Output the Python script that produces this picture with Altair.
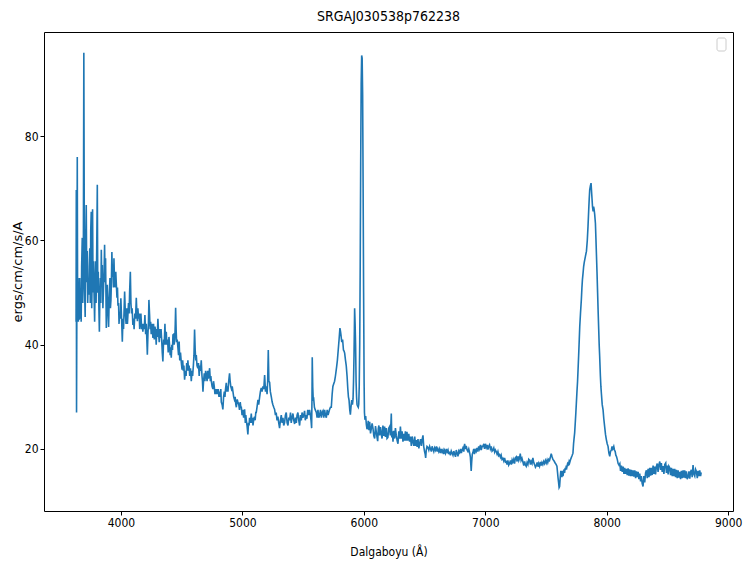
import altair as alt
import pandas as pd

# Spectrum of SRGAJ030538p762238, (wavelength [Å], flux) pairs by region
blue_end = [
    (3630, 44.4), (3632, 69.7), (3634, 27), (3637, 50), (3640, 76), (3643, 45), (3646, 52.8),
    (3649, 44.4), (3652, 51), (3656, 44.8), (3660, 52.8), (3664, 45), (3668, 50.5), (3672, 44.4),
    (3676, 55), (3681, 60.5), (3685, 48), (3690, 55), (3694, 96), (3699, 52), (3705, 45.3),
    (3710, 60), (3714, 66.8), (3718, 52), (3722, 58), (3726, 48), (3730, 52.8), (3735, 49.6),
    (3739, 55), (3743, 58.5), (3747, 48), (3751, 62), (3755, 65.5), (3759, 47), (3762, 52),
    (3766, 66), (3770, 50), (3774, 56), (3778, 50), (3783, 44.4), (3787, 52), (3791, 56),
    (3795, 48), (3800, 58), (3805, 70.7), (3809, 50), (3813, 54), (3818, 47), (3822, 42.5),
    (3826, 49), (3830, 52.8), (3834, 48), (3838, 58.2), (3842, 52), (3846, 55.3), (3851, 47),
    (3857, 51.5), (3861, 54), (3865, 59.2), (3869, 52), (3873, 56.6), (3876, 50), (3879, 43.2),
    (3883, 48), (3887, 51.5), (3892, 47), (3898, 43.4), (3903, 49), (3909, 52.8), (3913, 47),
    (3917, 48.5), (3921, 52), (3925, 57.8), (3930, 53), (3934, 55.3), (3938, 51), (3942, 56.6),
    (3947, 52), (3953, 51), (3957, 54), (3961, 52), (3967, 49), (3971, 51), (3975, 47.5),
    (3980, 48), (3984, 44), (3988, 46.3), (3994, 45), (3999, 48.9), (4005, 45), (4011, 40.6),
    (4016, 45), (4021, 43), (4026, 47), (4030, 50.2), (4036, 46), (4042, 44), (4048, 47),
    (4053, 44), (4057, 45.7), (4062, 48), (4067, 46), (4071, 50), (4077, 54), (4082, 48),
    (4087, 46), (4092, 47), (4098, 43.8), (4103, 45), (4108, 43), (4114, 46), (4120, 45),
    (4126, 49), (4131, 46), (4135, 44.5), (4139, 47), (4145, 45), (4150, 46), (4154, 43),
    (4159, 44.4), (4164, 46), (4170, 43), (4175, 44), (4180, 42.5), (4186, 44), (4192, 43),
    (4197, 45.7), (4203, 42), (4208, 44), (4213, 41), (4217, 38.1), (4222, 42), (4226, 44),
    (4230, 48.6), (4235, 46), (4240, 43), (4244, 44.4), (4249, 42), (4254, 44), (4258, 43),
    (4263, 41.3), (4268, 44), (4274, 41), (4280, 43.5), (4285, 42.5), (4290, 40), (4295, 43),
    (4299, 41.5), (4304, 45), (4310, 42), (4315, 40.5), (4320, 43), (4324, 41.3), (4330, 43),
    (4336, 40.5), (4340, 38.5), (4345, 36.8), (4351, 41), (4356, 40), (4362, 44), (4367, 40),
    (4373, 42.5), (4378, 40), (4384, 41), (4389, 38.5), (4395, 41.5), (4400, 40), (4405, 38),
    (4409, 39.5), (4414, 37.5), (4419, 40), (4424, 39), (4428, 41.9), (4433, 42), (4438, 40),
    (4443, 41), (4447, 44), (4450, 47.1), (4454, 43), (4458, 40.5), (4463, 41), (4469, 39.4),
    (4474, 38), (4479, 40.6), (4484, 37), (4490, 38.5), (4497, 36.5),
]

hbeta_region = [
    (4503, 35.2), (4508, 37), (4513, 35), (4518, 36), (4524, 33.3), (4530, 35), (4536, 34),
    (4541, 36.5), (4546, 35), (4551, 37), (4556, 35), (4561, 36), (4566, 34), (4572, 35.5),
    (4579, 33), (4585, 35), (4590, 34), (4596, 36), (4601, 38), (4606, 42.9), (4611, 39),
    (4616, 37), (4620, 38), (4626, 36), (4633, 35.5), (4638, 36.5), (4644, 34), (4650, 36),
    (4655, 35), (4661, 37), (4667, 34), (4671, 33), (4675, 31), (4680, 33), (4686, 34.5),
    (4691, 33), (4697, 35), (4703, 34), (4709, 33), (4714, 35), (4720, 33.5), (4725, 34.5),
    (4730, 35.5), (4736, 33), (4740, 34), (4744, 33), (4750, 32), (4757, 31.5), (4762, 33),
    (4768, 32), (4774, 30.5), (4779, 31.5), (4785, 30.5), (4790, 31.5), (4796, 30.5),
    (4801, 31.5), (4807, 30), (4812, 31), (4818, 30), (4822, 31.5), (4826, 29), (4833, 28.5),
    (4839, 27.6), (4845, 30), (4851, 31), (4856, 30), (4861, 31.5), (4867, 32.7), (4872, 31),
    (4876, 32), (4881, 31), (4887, 33), (4894, 34.5), (4899, 33), (4904, 32), (4910, 31.5),
    (4916, 32), (4922, 31), (4928, 30), (4934, 29.5), (4940, 30), (4946, 28.5), (4950, 28),
    (4957, 29.5), (4963, 29), (4970, 28.5), (4976, 27.5), (4982, 29), (4987, 28), (4991, 28),
    (4997, 26.5), (5003, 27.5), (5010, 26), (5018, 27.6), (5024, 25), (5028, 26.5),
    (5032, 25.5), (5038, 24.5), (5045, 22.8), (5050, 25), (5055, 24.5), (5059, 26),
    (5066, 25), (5073, 26.8), (5078, 25), (5083, 26), (5087, 24.5), (5092, 25.5), (5097, 26),
    (5100, 26.2), (5105, 25.5), (5110, 27), (5114, 27), (5120, 28), (5128, 29.4), (5134, 28.5),
    (5142, 30), (5148, 31), (5155, 31.7), (5162, 31), (5169, 32), (5176, 31.5), (5183, 34.2),
    (5190, 31), (5197, 32), (5203, 30.5), (5208, 33), (5213, 39), (5218, 33), (5224, 32.8),
    (5230, 31), (5238, 30), (5245, 29), (5251, 28.5), (5258, 28), (5265, 27.6), (5272, 26.5),
    (5278, 27), (5285, 25.5), (5292, 26.2), (5299, 25), (5306, 24), (5313, 25.5), (5320, 26.5),
    (5327, 25), (5334, 26), (5340, 24.5), (5347, 25), (5354, 26.5), (5361, 27), (5368, 25),
    (5375, 24.5), (5382, 26), (5389, 25.5), (5396, 27), (5402, 25), (5409, 26), (5416, 26.8),
    (5423, 25.5), (5430, 24.8), (5437, 26), (5444, 25), (5450, 26.5), (5457, 27), (5464, 25.5),
    (5471, 24.5), (5478, 26.5), (5485, 25.5), (5491, 27), (5498, 26), (5505, 26.5),
    (5512, 27.3), (5518, 25.5), (5525, 26.5), (5531, 25.8), (5538, 27.5), (5545, 26.5),
    (5553, 27.5), (5560, 26.5), (5565, 25.5), (5570, 24), (5573, 30), (5575, 37.6), (5579, 32),
    (5583, 29.5), (5587, 29.6), (5593, 28), (5600, 27.5), (5609, 27), (5615, 26), (5622, 27.5),
    (5629, 26), (5636, 26.5), (5643, 27.5), (5650, 26), (5656, 27), (5663, 27.3), (5670, 26),
    (5677, 27.5), (5684, 26.5), (5691, 26), (5698, 27.5), (5705, 26.5), (5711, 27),
    (5718, 27.6), (5725, 28), (5732, 28),
]

halpha_region = [
    (5739, 30.5), (5745, 32), (5752, 32.5), (5759, 33), (5766, 34), (5776, 35.8), (5782, 37),
    (5789, 39), (5796, 41), (5803, 43.2), (5808, 42.5), (5811, 42), (5818, 40.5), (5825, 41),
    (5832, 39), (5837, 38.8), (5842, 38.4), (5849, 37), (5855, 36), (5862, 33.9), (5868, 31.5),
    (5873, 30), (5878, 29.4), (5884, 27.5), (5889, 26.6), (5894, 28), (5900, 29.4),
    (5906, 28.5), (5911, 29.6), (5915, 33), (5919, 38), (5922, 43), (5924, 47), (5928, 44),
    (5932, 40), (5936, 33), (5940, 30), (5944, 28.5), (5949, 28.2), (5954, 28), (5958, 28.6),
    (5962, 32), (5966, 40), (5970, 55), (5974, 75), (5978, 90), (5982, 95.5), (5986, 95),
    (5990, 88), (5994, 70), (5998, 50), (6002, 33), (6005, 27), (6009, 25.6),
]

red_continuum = [
    (6015, 26.3), (6021, 24.6), (6026, 23.8), (6031, 24.2), (6036, 25.4), (6042, 23.6),
    (6048, 25.2), (6055, 23), (6062, 24), (6068, 24.9), (6075, 24), (6082, 22.5), (6089, 22),
    (6096, 24.4), (6103, 23.2), (6108, 22.3), (6114, 21.5), (6119, 23.9), (6124, 24.5),
    (6130, 22.6), (6137, 24.2), (6144, 22.8), (6150, 22), (6157, 24.5), (6164, 22.5),
    (6171, 24.3), (6178, 22.3), (6185, 24), (6191, 22), (6198, 22.2), (6205, 24), (6212, 24.3),
    (6218, 22.6), (6222, 24.4), (6226, 26.8), (6230, 22.2), (6235, 23.4), (6240, 21.4),
    (6247, 23.5), (6254, 22), (6260, 24), (6267, 22.6), (6274, 21.6), (6281, 21), (6288, 23.4),
    (6295, 22), (6301, 24.3), (6308, 22), (6315, 23.4), (6322, 21.4), (6329, 22.9),
    (6336, 21.6), (6342, 23.4), (6349, 21.6), (6355, 23.3), (6362, 21.6), (6370, 22.9),
    (6377, 21.4), (6384, 22.4), (6391, 20.6), (6398, 22.4), (6405, 21.3), (6412, 20.6),
    (6419, 22.4), (6426, 20.6), (6432, 21.7), (6439, 20.4), (6446, 21.9), (6453, 20.1),
    (6460, 21.1), (6467, 21.9), (6474, 20.6), (6480, 21.8), (6487, 22.6), (6493, 20.5),
    (6500, 19.5), (6505, 19), (6509, 18.3), (6514, 19.8),
    (6520, 20.5), (6528, 20.3), (6535, 19.8), (6542, 20.5), (6549, 20), (6556, 19.5),
    (6562, 20.5), (6569, 20), (6576, 19.5), (6583, 20.2), (6590, 19.8), (6597, 20.5),
    (6604, 19.5), (6610, 20), (6617, 19.5), (6624, 20), (6631, 19.2), (6638, 20), (6645, 19.4),
    (6652, 19.8), (6658, 19), (6665, 19.7), (6672, 19.2), (6679, 20), (6686, 19.4),
    (6693, 19.8), (6700, 19), (6706, 19.5), (6713, 18.8), (6720, 19.6), (6727, 19.2),
    (6734, 18.8), (6741, 19.6), (6748, 19), (6755, 18.5), (6761, 19.8), (6768, 19.2),
    (6775, 18.6), (6782, 19.6), (6789, 19.3), (6796, 20), (6803, 19.2), (6809, 19.8),
    (6816, 20.2), (6823, 19.5), (6830, 21), (6836, 20), (6843, 20.6), (6850, 19.8),
    (6857, 19.5), (6864, 20), (6871, 19.3), (6877, 18.5), (6881, 17), (6884, 15.8),
    (6888, 17.5), (6893, 19), (6898, 19.3), (6905, 20), (6911, 19), (6918, 19.8), (6925, 19.5),
    (6932, 20.2), (6939, 19.5), (6946, 20.5), (6953, 20), (6960, 20.8), (6967, 19.8),
    (6974, 20.5), (6981, 20.5), (6988, 21), (6994, 20), (7001, 21), (7008, 20.3), (7015, 20.8),
    (7022, 19.9), (7028, 20.5), (7035, 20.8), (7042, 20), (7049, 20.5), (7056, 19.6),
    (7063, 19.8), (7070, 20.2), (7077, 19.4), (7083, 19.8), (7090, 19.5), (7097, 19),
    (7104, 19.5), (7111, 18.7), (7118, 18.9), (7125, 18.4), (7131, 18.8), (7138, 18),
    (7145, 18.2), (7152, 17.7), (7159, 18.3), (7166, 17.5), (7172, 17.6), (7179, 17),
    (7186, 17.8), (7193, 16.9), (7200, 17.2), (7207, 17.8), (7214, 17), (7221, 17.9),
    (7227, 17.5), (7234, 18), (7241, 17.2), (7248, 18.3), (7255, 18.5), (7262, 17.6),
    (7269, 18.6), (7276, 17.8), (7282, 18.2), (7288, 19.1), (7295, 17.8), (7302, 18.2),
    (7310, 17.5), (7317, 16.8), (7324, 17.6), (7330, 17), (7337, 16.7), (7344, 17.4),
    (7351, 17), (7358, 18), (7365, 17.8), (7372, 17), (7378, 17.6), (7385, 17.2), (7392, 18.3),
    (7399, 17.4), (7406, 17), (7413, 16.5), (7420, 16.8), (7427, 17.4), (7434, 16.6),
    (7440, 17.2), (7447, 16.7), (7454, 17.5), (7461, 16.8), (7467, 17.4), (7474, 17),
    (7481, 17.6), (7488, 17.2), (7495, 17.8), (7502, 17.3), (7509, 17.9), (7515, 17.4),
    (7522, 18), (7529, 17.8), (7536, 18.4), (7543, 19.1), (7550, 18.5), (7557, 18),
    (7564, 17.8), (7571, 17.5), (7578, 17.2), (7584, 17), (7590, 16.7), (7595, 15.5),
    (7599, 14.5), (7604, 13.5), (7608, 12.6), (7612, 12.8), (7617, 14.5), (7622, 15.8),
    (7626, 15.4), (7631, 14.6), (7636, 15.8), (7640, 14.8), (7645, 15.6), (7649, 16.1),
    (7653, 15.4), (7658, 16.4), (7663, 16), (7667, 16.8), (7672, 16.5), (7678, 17.2),
    (7684, 17), (7690, 17.6), (7694, 17.3), (7700, 17.8), (7706, 18.2), (7711, 18.5),
    (7716, 18.8),
]

nir_line = [
    (7722, 19.2), (7727, 21), (7731, 22), (7736, 23.1), (7741, 25), (7746, 27), (7750, 28.8),
    (7755, 31), (7760, 33), (7764, 35.2), (7769, 38), (7774, 41), (7778, 43.5), (7784, 46),
    (7791, 48.6), (7796, 51), (7800, 52.5), (7805, 53.7), (7810, 55), (7815, 55.8),
    (7819, 56.3), (7825, 57), (7830, 57.6), (7833, 57.9), (7840, 60), (7846, 62.7), (7852, 66),
    (7856, 68), (7860, 69.7), (7866, 70.5), (7871, 71), (7875, 69.5), (7879, 68), (7883, 66.5),
    (7888, 65.6), (7892, 66.5), (7896, 66), (7901, 65), (7907, 63.3), (7911, 60.5),
    (7915, 57.6), (7920, 54), (7925, 50), (7929, 46.7), (7934, 43), (7938, 40), (7942, 37.8),
    (7948, 34), (7952, 32), (7956, 30.7), (7963, 28.5), (7970, 27.5), (7976, 25.8),
    (7983, 24.3), (7990, 22.8), (7997, 21.8), (8004, 21), (8011, 20.5), (8018, 19.2),
    (8025, 18.6), (8031, 19.5), (8038, 19.8), (8044, 20.5), (8050, 20), (8058, 20.5),
    (8064, 19.8), (8070, 19.5), (8075, 18.8), (8080, 18.6), (8087, 18), (8094, 17.2),
    (8101, 16.9),
]

red_tail = [
    (8108, 17.2), (8114, 15.8), (8121, 16.8), (8128, 15.6), (8135, 16.6), (8142, 15.2),
    (8148, 16.4), (8155, 15.2), (8162, 16.2), (8169, 15), (8176, 16.3), (8182, 14.9),
    (8189, 16.1), (8196, 14.8), (8203, 16), (8210, 14.8), (8217, 15.9), (8224, 14.7),
    (8231, 15.9), (8238, 14.4), (8245, 15.7), (8252, 14.6), (8259, 15.6), (8265, 14.2),
    (8272, 15.3), (8279, 13.8), (8285, 14.8), (8292, 13.4), (8299, 12.8), (8306, 14.8),
    (8313, 13.6), (8320, 15.4), (8327, 15.9), (8334, 14.4), (8341, 16.2), (8348, 14.6),
    (8354, 16.4), (8361, 14.9), (8368, 16.4), (8375, 15), (8382, 16.8), (8389, 15.2),
    (8396, 16.6), (8402, 15.1), (8409, 16.6), (8416, 17.2), (8423, 15.6), (8430, 17),
    (8437, 17.6), (8444, 16), (8450, 17.3), (8457, 15.6), (8464, 16.7), (8471, 15.2),
    (8478, 17), (8486, 17.3), (8492, 15.4), (8499, 16.8), (8506, 15.1), (8512, 16.7),
    (8519, 16.4), (8526, 15), (8533, 16.4), (8540, 14.8), (8547, 16.2), (8553, 14.8),
    (8560, 16.2), (8567, 14.6), (8574, 16), (8581, 14.4), (8588, 15.9), (8594, 14.5),
    (8601, 15.6), (8608, 14.2), (8615, 15.8), (8622, 14.4), (8629, 15.9), (8636, 14.5),
    (8642, 15.9), (8649, 14.4), (8656, 15.7), (8663, 14.2), (8670, 14.6), (8677, 15.7),
    (8684, 14.3), (8690, 15.6), (8697, 16), (8704, 14.6), (8711, 16.9), (8718, 15.2),
    (8725, 14.8), (8732, 16.1), (8739, 15.7), (8746, 14.4), (8753, 15.8), (8760, 14.8),
    (8766, 15.9), (8773, 14.8), (8778, 15.5),
]

x_ticks = [4000, 5000, 6000, 7000, 8000, 9000]
y_ticks = [20, 40, 60, 80]

segments = blue_end + hbeta_region + halpha_region + red_continuum + nir_line + red_tail
spectrum = pd.DataFrame(segments, columns=["wavelength", "flux"])

W, H = 689, 479
COND = "DejaVu Sans Condensed, DejaVu Sans"

line = alt.Chart(spectrum).mark_line(color="#1f77b4", strokeWidth=1.6).encode(
    x=alt.X(
        "wavelength:Q",
        scale=alt.Scale(domain=[3366, 9040], nice=False, zero=False),
        axis=alt.Axis(
            values=x_ticks, format="d", title="Dalgaboyu (Å)",
            titleY=40, titleBaseline="middle",
        ),
    ),
    y=alt.Y(
        "flux:Q",
        scale=alt.Scale(domain=[8.1, 100], nice=False, zero=False),
        axis=alt.Axis(
            values=y_ticks, title="ergs/cm/cm/s/A",
            titleX=-27, titleY=H / 2, titleAngle=-90,
            titleAlign="center", titleBaseline="middle",
            titleFont="DejaVu Sans", titleFontSize=13,
        ),
    ),
)

# empty legend frame in the upper right corner
legend_box = alt.Chart(pd.DataFrame({"k": [0]})).mark_rect(
    fill="white", stroke="#cccccc", strokeWidth=1, cornerRadius=2
).encode(
    x=alt.value(673), x2=alt.value(682), y=alt.value(6), y2=alt.value(19)
)

chart = (
    alt.layer(line, legend_box)
    .properties(
        width=W,
        height=H,
        title=alt.TitleParams(
            "SRGAJ030538p762238", font=COND, fontSize=14, fontWeight="normal",
            color="black", anchor="middle", offset=8,
        ),
        autosize=alt.AutoSizeParams(type="none"),
        padding={"left": 44, "top": 32, "right": 10, "bottom": 50},
    )
    .configure(background="white")
    .configure_view(stroke="black", strokeWidth=1)
    .configure_axis(
        domain=False, grid=False,
        ticks=True, tickColor="black", tickSize=4, tickWidth=1,
        labelFont=COND, labelFontSize=12, labelColor="black", labelPadding=2,
        titleFont=COND, titleFontSize=12, titleFontWeight="normal", titleColor="black",
    )
)

chart.save("out.html", embed_options={"renderer": "svg", "actions": False})
